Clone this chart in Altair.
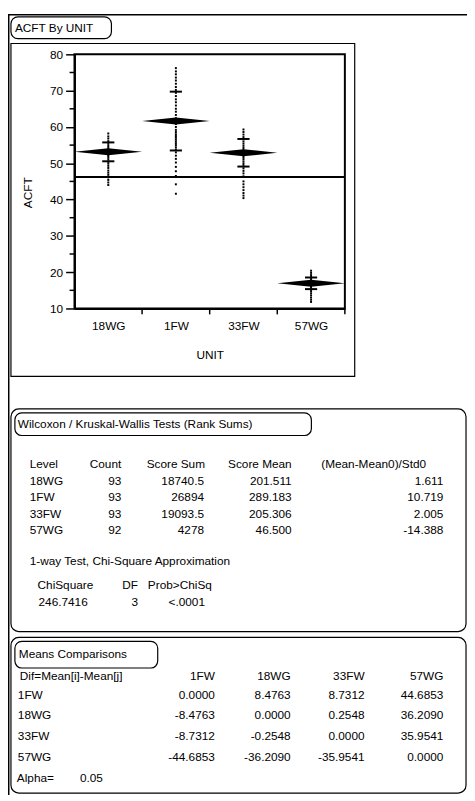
import altair as alt
import pandas as pd

# ---------------- data ----------------
units = ["18WG", "1FW", "33FW", "57WG"]
unit_means = [53.14, 61.62, 52.89, 16.93]
unit_sds = [2.6, 8.1, 3.8, 1.6]
unit_counts = [93, 93, 93, 92]
grand_mean = 46.2

pts_18WG = [58.2, 57.4, 56.8, 56.1, 55.6, 55.0, 54.5, 54.0, 53.6, 53.2, 52.8, 52.4, 52.0,
            51.5, 51.0, 50.4, 49.9, 49.3, 48.7, 48.0, 47.4, 46.8, 46.1, 45.4, 44.7, 44.0]
pts_1FW = [76.2, 75.3, 74.5, 73.6, 72.8, 71.9, 71.0, 70.2, 69.4, 68.5, 67.6, 66.8, 65.9, 65.0,
           64.2, 63.3, 62.4, 61.6, 60.8, 60.0, 59.2, 58.6, 58.0, 57.5, 57.0, 56.5, 56.0, 55.5,
           55.0, 54.4, 53.8, 53.0, 52.1, 51.2, 50.2, 49.0, 47.8, 46.5, 44.2, 41.6]
pts_33FW = [59.3, 58.6, 57.9, 57.2, 56.6, 56.0, 55.4, 54.8, 54.2, 53.6, 53.0, 52.5, 52.0, 51.5,
            51.0, 50.4, 49.8, 49.2, 48.6, 47.9, 47.2, 46.4, 45.0, 44.2, 43.4, 42.6, 41.8, 41.1, 40.4]
pts_57WG = [20.4, 19.8, 19.2, 18.7, 18.2, 17.8, 17.4, 17.0, 16.6, 16.2, 15.8, 15.3, 14.8, 14.2,
            13.6, 13.0, 12.4, 11.8]
unit_points = [pts_18WG, pts_1FW, pts_33FW, pts_57WG]

y_ticks = [10, 20, 30, 40, 50, 60, 70, 80]
y_minor_ticks = [15, 25, 35, 45, 55, 65, 75]

wx_levels = ["18WG", "1FW", "33FW", "57WG"]
wx_count = ["93", "93", "93", "92"]
wx_score_sum = ["18740.5", "26894", "19093.5", "4278"]
wx_score_mean = ["201.511", "289.183", "205.306", "46.500"]
wx_std = ["1.611", "10.719", "2.005", "-14.388"]
chi_square = "246.7416"
chi_df = "3"
chi_p = "<.0001"

mc_levels = ["1FW", "18WG", "33FW", "57WG"]
mc_col_1FW = ["0.0000", "-8.4763", "-8.7312", "-44.6853"]
mc_col_18WG = ["8.4763", "0.0000", "-0.2548", "-36.2090"]
mc_col_33FW = ["8.7312", "0.2548", "0.0000", "-35.9541"]
mc_col_57WG = ["44.6853", "36.2090", "35.9541", "0.0000"]
alpha = "0.05"

# ---------------- layout helpers ----------------
FONT = "Liberation Sans, Arial, sans-serif"
W, H = 466, 793


def X(rx):
    return rx - 5


def Y(ry):
    return ry - 5


one = pd.DataFrame({"k": [0]})


def frame(x1, y1, x2, y2, r=0, sw=1.0):
    return alt.Chart(one).mark_rect(
        fillOpacity=0, stroke="black", strokeWidth=sw, cornerRadius=r
    ).encode(x=alt.value(x1), x2=alt.value(x2), y=alt.value(y1), y2=alt.value(y2))


def hline(x1, x2, y, sw=1.0):
    return alt.Chart(one).mark_rule(color="black", strokeWidth=sw).encode(
        x=alt.value(x1), x2=alt.value(x2), y=alt.value(y))


def vline(x, y1, y2, sw=1.0):
    return alt.Chart(one).mark_rule(color="black", strokeWidth=sw).encode(
        x=alt.value(x), y=alt.value(y1), y2=alt.value(y2))


def label(text, x, y, align="left", size=12):
    return alt.Chart(pd.DataFrame({"t": [text]})).mark_text(
        align=align, baseline="middle", font=FONT, fontSize=size, color="black"
    ).encode(x=alt.value(x), y=alt.value(y), text="t:N")


def column(values, x, y_first, y_last, align="right"):
    df = pd.DataFrame({"t": values, "r": list(range(len(values)))})
    return alt.Chart(df).mark_text(
        align=align, baseline="middle", font=FONT, fontSize=12, color="black"
    ).encode(
        x=alt.value(x),
        y=alt.Y("r:Q", scale=alt.Scale(domain=[0, len(values) - 1], range=[y_first, y_last], nice=False), axis=None),
        text="t:N",
    )


# ---------------- plot layers ----------------
xs = alt.Scale(domain=[0, 4], range=[X(72.5), X(347)], nice=False, zero=False)
ys = alt.Scale(domain=[10, 80], range=[Y(304), Y(46)], nice=False, zero=False)

pts_rows = []
for i, (u, vals) in enumerate(zip(units, unit_points)):
    for v in vals:
        pts_rows.append({"unit": u, "xc": i + 0.5, "v": v})
pts_df = pd.DataFrame(pts_rows)

pooled_sd = (sum(s * s for s in unit_sds) / len(unit_sds)) ** 0.5
dia_rows = []
sd_rows = []
for i, (u, m, n, s) in enumerate(zip(units, unit_means, unit_counts, unit_sds)):
    h = 1.96 * pooled_sd / n ** 0.5
    dia_rows += [
        {"unit": u, "xp": i + 0.0, "top": m, "bot": m},
        {"unit": u, "xp": i + 0.5, "top": m + h, "bot": m - h},
        {"unit": u, "xp": i + 1.0, "top": m, "bot": m},
    ]
    sd_rows += [
        {"unit": u, "x1": i + 0.41, "x2": i + 0.59, "yv": m + s},
        {"unit": u, "x1": i + 0.41, "x2": i + 0.59, "yv": m - s},
    ]
dia_df = pd.DataFrame(dia_rows)
sd_df = pd.DataFrame(sd_rows)

label_expr = "[" + ",".join("'%s'" % u for u in units) + "][floor(datum.value)]"

points = alt.Chart(pts_df).mark_square(size=4, color="black", opacity=1).encode(
    x=alt.X("xc:Q", scale=xs, axis=alt.Axis(
        values=[i + 0.5 for i in range(len(units))], labelExpr=label_expr, ticks=False,
        grid=False, domainWidth=2, domainColor="black", labelColor="black",
        labelFont=FONT, labelFontSize=12, labelPadding=12, labelFlush=False,
        title="UNIT", titleFont=FONT, titleFontSize=12, titleFontWeight="normal",
        titleColor="black", titlePadding=19, offset=Y(304) - H)),
    y=alt.Y("v:Q", scale=ys, axis=alt.Axis(
        values=y_ticks, tickSize=9, tickWidth=1.5, tickColor="black", grid=False,
        domainWidth=2, domainColor="black", labelColor="black", labelFont=FONT,
        labelFontSize=12, labelPadding=3, labelOverlap=False,
        title="ACFT", titleFont=FONT, titleFontSize=12, titleFontWeight="normal",
        titleColor="black", titlePadding=15, titleY=Y(186), offset=-X(72.5))),
)

diamonds = alt.Chart(dia_df).mark_area(color="black", interpolate="linear", opacity=1).encode(
    x=alt.X("xp:Q", scale=xs, axis=None),
    y=alt.Y("top:Q", scale=ys, axis=None, stack=None),
    y2="bot:Q",
    detail="unit:N",
)

sd_lines = alt.Chart(sd_df).mark_rule(color="black", strokeWidth=2).encode(
    x=alt.X("x1:Q", scale=xs, axis=None), x2="x2:Q",
    y=alt.Y("yv:Q", scale=ys, axis=None),
)

mean_line = alt.Chart(one).mark_rule(color="black", strokeWidth=2).encode(
    x=alt.X(datum=0, scale=xs, axis=None), x2=alt.datum(4),
    y=alt.Y(datum=grand_mean, scale=ys, axis=None),
)

plot_box = alt.Chart(one).mark_rect(fillOpacity=0, stroke="black", strokeWidth=2).encode(
    x=alt.X(datum=0, scale=xs, axis=None), x2=alt.datum(4),
    y=alt.Y(datum=10, scale=ys, axis=None), y2=alt.datum(80),
)

minor = alt.Chart(pd.DataFrame({"m": y_minor_ticks})).mark_rule(color="black", strokeWidth=1.5).encode(
    x=alt.value(X(67.5)), x2=alt.value(X(72.5)),
    y=alt.Y("m:Q", scale=ys, axis=None),
)

bounds = alt.Chart(pd.DataFrame({"b": [1, 2, 3, 4]})).mark_rule(color="black", strokeWidth=1.5).encode(
    x=alt.X("b:Q", scale=xs, axis=None),
    y=alt.value(Y(304)), y2=alt.value(Y(310)),
)

# ---------------- frames & text ----------------
right_edge = W - 1
L = 3  # left edge of boxes (clamped to the page margin)
layers = [
    vline(0.75, 0, H, 1.5),
    hline(0.75, W, 0.75, 1.5),
    frame(L, 3, X(110), Y(30), r=7, sw=1.2),
    frame(L, Y(35), X(357), Y(373), sw=1.2),
    frame(L, Y(406), right_edge, Y(632), r=8, sw=1.2),
    frame(X(12), Y(410), X(313), Y(433), r=7, sw=1.2),
    frame(L, Y(638), right_edge, H - 2, r=8, sw=1.2),
    frame(X(12), Y(642), X(157), Y(669), r=7, sw=1.2),
    label("ACFT By UNIT", X(12), Y(19)),
    label("Wilcoxon / Kruskal-Wallis Tests (Rank Sums)", X(15), Y(421)),
    label("Means Comparisons", X(16), Y(655)),
    # Wilcoxon table
    label("Level", X(27), Y(462)),
    label("Count", X(120), Y(462), "right"),
    label("Score Sum", X(205), Y(462), "right"),
    label("Score Mean", X(293), Y(462), "right"),
    label("(Mean-Mean0)/Std0", X(323), Y(462)),
    column(wx_levels, X(27), Y(479), Y(529), "left"),
    column(wx_count, X(120), Y(479), Y(529)),
    column(wx_score_sum, X(204), Y(479), Y(529)),
    column(wx_score_mean, X(293), Y(479), Y(529)),
    column(wx_std, X(447), Y(479), Y(529)),
    label("1-way Test, Chi-Square Approximation", X(27), Y(560)),
    label("ChiSquare", X(35), Y(585)),
    label("DF", X(137), Y(585), "right"),
    label("Prob>ChiSq", X(147), Y(585)),
    label(chi_square, X(36), Y(602)),
    label(chi_df, X(137), Y(602), "right"),
    label(chi_p, X(205), Y(602), "right"),
    # Means comparisons
    label("Dif=Mean[i]-Mean[j]", X(17), Y(677)),
    label(mc_levels[0], X(215), Y(677), "right"),
    label(mc_levels[1], X(292), Y(677), "right"),
    label(mc_levels[2], X(367), Y(677), "right"),
    label(mc_levels[3], X(447), Y(677), "right"),
    column(mc_levels, X(15), Y(696), Y(759), "left"),
    column(mc_col_1FW, X(215), Y(696), Y(759)),
    column(mc_col_18WG, X(292), Y(696), Y(759)),
    column(mc_col_33FW, X(367), Y(696), Y(759)),
    column(mc_col_57WG, X(447), Y(696), Y(759)),
    label("Alpha=", X(14), Y(781)),
    label(alpha, X(78), Y(781)),
    # plot
    plot_box,
    mean_line,
    diamonds,
    sd_lines,
    minor,
    bounds,
    points,
]

chart = alt.layer(*layers).resolve_scale(x="independent", y="independent").properties(
    width=W, height=H, padding=0, autosize=alt.AutoSizeParams(type="none"),
    background="white",
).configure_view(stroke=None)

chart.save("out.html", embed_options={"renderer": "svg", "actions": False})
